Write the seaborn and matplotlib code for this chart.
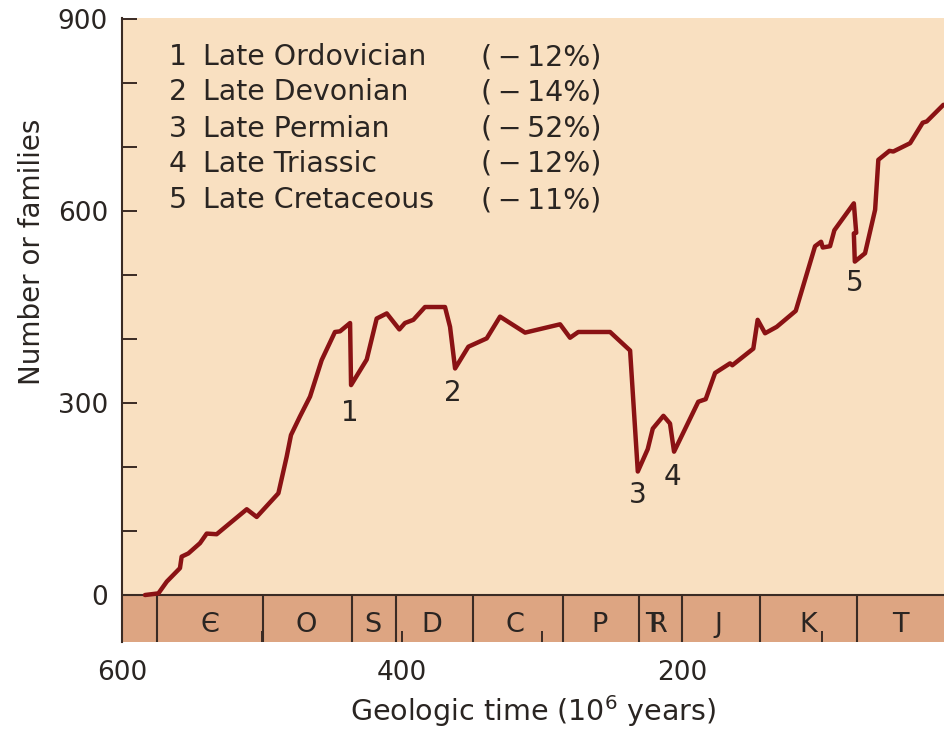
import numpy as np
import pandas as pd
import matplotlib
matplotlib.use("Agg")
import matplotlib.pyplot as plt
import seaborn as sns

# ---------------- data ----------------
age_ma = [583.6, 574.0, 568.0, 558.6, 557.4, 552.6, 544.3, 539.5, 532.4, 510.9,
          503.8, 488.3, 482.4, 479.3, 472.9, 465.7, 457.4, 447.9, 444.3, 437.1,
          436.4, 425.2, 418.1, 410.9, 401.9, 397.9, 391.9, 383.6, 369.3, 365.7,
          362.1, 352.6, 339.5, 330.0, 312.1, 287.1, 280.0, 274.1, 251.4, 237.1,
          231.6, 224.5, 220.9, 213.3, 208.6, 205.7, 188.4, 183.1, 176.4, 165.7,
          164.1, 149.1, 146.0, 140.7, 132.4, 118.8, 105.0, 100.7, 99.5, 94.3,
          91.2, 77.3, 75.6, 77.3, 76.6, 69.3, 62.1, 59.8, 51.9, 49.1,
          37.1, 28.1, 25.2, 13.3]
families = [0, 2.6, 21, 42, 60, 65, 81, 96, 95, 134,
            122, 159, 216, 250, 279, 310, 367, 411, 412, 425,
            328, 368, 432, 440, 415, 425, 430, 450, 450, 419,
            354, 388, 401, 435, 410, 423, 402, 411, 411, 382,
            193, 228, 260, 280, 268, 224, 302, 306, 347, 362,
            359, 385, 430, 409, 419, 444, 545, 552, 543, 545,
            570, 612, 566, 565, 521, 534, 602, 680, 694, 693,
            706, 738, 740, 766]

period_bounds = [574.8, 499.1, 435.5, 404.5, 349.5, 284.8, 230.5, 200.2, 144.3, 75.2]
period_labels = ["Є", "O", "S", "D", "C", "P", r"$\mathregular{T\!\!\!R}$", "J", "K", "T"]
period_label_x = [537.1, 468.1, 420.7, 378.8, 319.3, 258.6, 217.8, 174.3, 110.0, 44.3]

event_ids = ["1", "2", "3", "4", "5"]
event_names = ["Late Ordovician", "Late Devonian", "Late Permian",
               "Late Triassic", "Late Cretaceous"]
event_pct = ["(\u2009\u2212\u200912%)", "(\u2009\u2212\u200914%)", "(\u2009\u2212\u200952%)",
             "(\u2009\u2212\u200912%)", "(\u2009\u2212\u200911%)"]
event_label_x = [437.1, 363.4, 231.9, 206.9, 76.4]
event_label_y = [284, 315, 156, 185, 487]

x_major = [600, 400, 200]
x_minor = [500, 300, 100]
y_ticks = list(range(0, 1000, 100))

# ---------------- style ----------------
BG = "#F9E0C1"
BAND = "#DDA582"
LINE = "#8A1214"
DARK = "#3a2b24"
TXT = "#2a2522"

sns.set_theme(style="ticks")
plt.rcParams["font.family"] = ["DejaVu Sans"]
plt.rcParams["mathtext.default"] = "regular"

fig = plt.figure(figsize=(9.46, 7.30), dpi=100)
fig.patch.set_facecolor("white")
ax = fig.add_axes([122 / 946, 1 - 642 / 730, (944 - 122) / 946, (642 - 18) / 730])
ax.set_facecolor(BG)

YMIN, YMAX = -73.4, 901.6
ax.set_xlim(600, 12.9)
ax.set_ylim(YMIN, YMAX)

# period band
ax.axhspan(YMIN, 0, color=BAND, zorder=0.5, lw=0)
ax.axhline(0, color=DARK, lw=1.5, zorder=1)
ax.vlines(period_bounds, YMIN, 0, color=DARK, lw=1.5, zorder=1)
for lab, xx in zip(period_labels, period_label_x):
    ax.text(xx, -57.3, lab, ha="center", va="baseline", fontsize=19.5, color=TXT, zorder=2)

# diversity curve
df = pd.DataFrame({"age": age_ma, "families": families})
sns.lineplot(data=df, x="age", y="families", sort=False, estimator=None,
             color=LINE, lw=3.2, ax=ax, zorder=3)
for ln in ax.lines:
    ln.set_solid_joinstyle("round")

# event labels
for lab, xx, yy in zip(event_ids, event_label_x, event_label_y):
    ax.text(xx, yy, lab, ha="center", va="center", fontsize=20, color=TXT)

# legend-like list
row_y = [828.1, 773.4, 716.1, 661.4, 604.2]
for i in range(5):
    ax.text(560, row_y[i], event_ids[i], ha="center", va="baseline", fontsize=20.4, color=TXT)
    ax.text(542.5, row_y[i], event_names[i], ha="left", va="baseline", fontsize=20.4, color=TXT)
    ax.text(343.5, row_y[i], event_pct[i], ha="left", va="baseline", fontsize=20.4, color=TXT)

# axes & ticks
ax.set_xticks(x_major)
ax.set_xticklabels([str(v) for v in x_major])
ax.set_xticks(x_minor, minor=True)
ax.set_yticks(y_ticks)
ax.set_yticklabels([str(v) if v % 300 == 0 else "" for v in y_ticks])
ax.tick_params(axis="x", which="both", direction="in", length=8, width=1.4,
               color=DARK, labelcolor=TXT, labelsize=19, pad=13)
ax.tick_params(axis="y", which="both", direction="in", length=11, width=1.4,
               color=DARK, labelcolor=TXT, labelsize=19, pad=10)
for s in ["top", "right", "bottom"]:
    ax.spines[s].set_visible(False)
ax.spines["left"].set_color(DARK)
ax.spines["left"].set_linewidth(1.5)

ax.set_xlabel("Geologic time (10$^{6}$ years)", fontsize=20.5, color=TXT, labelpad=5)
ax.set_ylabel("Number or families", fontsize=20, color=TXT)
ax.yaxis.set_label_coords(-0.0925, 0.625)

fig.savefig("out.png", dpi=100)
